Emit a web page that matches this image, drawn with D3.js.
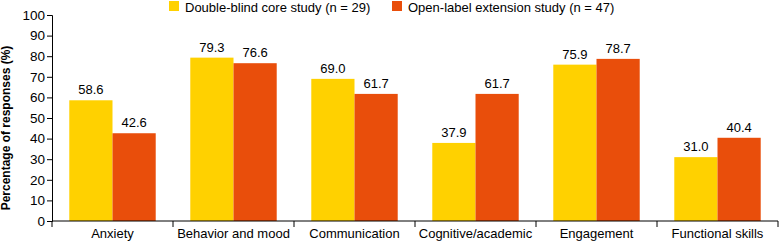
<!DOCTYPE html>
<html>
<head>
<meta charset="utf-8">
<script src="https://cdn.jsdelivr.net/npm/d3@7"></script>
<style>
  body { margin: 0; background: #fff; }
  text { font-family: "Liberation Sans", Arial, sans-serif; fill: #000; }
</style>
</head>
<body>
<div id="canvas"></div>
<script>
// DATA
const categories = ["Anxiety", "Behavior and mood", "Communication", "Cognitive/academic", "Engagement", "Functional skills"];
const seriesNames = ["Double-blind core study (n = 29)", "Open-label extension study (n = 47)"];
const doubleBlind = [58.6, 79.3, 69.0, 37.9, 75.9, 31.0];
const openLabel = [42.6, 76.6, 61.7, 61.7, 78.7, 40.4];
const yTicks = [0, 10, 20, 30, 40, 50, 60, 70, 80, 90, 100];
const colors = ["#FFD100", "#E94E0B"];

// DIMENSIONS
const width = 779;
const height = 242;
const margin = { top: 15, right: 1, bottom: 21, left: 52 };
const plot_width = width - margin.left - margin.right;
const plot_height = height - margin.top - margin.bottom;

// CANVAS AND PLOT
const canvas = d3.select("#canvas")
  .append("svg")
  .attr("width", width)
  .attr("height", height);

const plot = canvas.append("g")
  .attr("transform", `translate(${margin.left},${margin.top})`);

// SCALES
const x = d3.scaleBand().domain(categories).range([0, plot_width]).padding(0);
const xInner = d3.scaleBand().domain([0, 1]).range([0, x.bandwidth()]).paddingInner(0).paddingOuter(0.4);
const y = d3.scaleLinear().domain([0, 100]).range([plot_height, 0]);

// BARS
const rows = categories.map((c, i) => ({ cat: c, values: [doubleBlind[i], openLabel[i]] }));

const groups = plot.selectAll("g.group")
  .data(rows)
  .join("g")
  .attr("class", "group")
  .attr("transform", d => `translate(${x(d.cat)},0)`);

groups.selectAll("rect")
  .data(d => d.values.map((v, k) => ({ v, k })))
  .join("rect")
  .attr("x", d => xInner(d.k))
  .attr("y", d => y(d.v))
  .attr("width", xInner.bandwidth())
  .attr("height", d => y(0) - y(d.v))
  .style("fill", d => colors[d.k]);

groups.selectAll("text.value")
  .data(d => d.values.map((v, k) => ({ v, k })))
  .join("text")
  .attr("class", "value")
  .attr("x", d => xInner(d.k) + xInner.bandwidth() / 2)
  .attr("y", d => y(d.v) - 6)
  .attr("text-anchor", "middle")
  .style("font-size", "13px")
  .text(d => d.v.toFixed(1));

// AXES
const yAxis = plot.append("g")
  .call(d3.axisLeft(y).tickValues(yTicks).tickSize(5).tickPadding(2));
yAxis.selectAll("text").style("font-size", "13.5px");

const xAxis = plot.append("g")
  .attr("transform", `translate(0,${plot_height})`);
xAxis.append("line")
  .attr("x1", 0).attr("x2", plot_width)
  .attr("stroke", "#000");
xAxis.selectAll("line.sep")
  .data(d3.range(categories.length + 1))
  .join("line")
  .attr("class", "sep")
  .attr("x1", i => i * x.step()).attr("x2", i => i * x.step())
  .attr("y1", 0).attr("y2", 6)
  .attr("stroke", "#000");
xAxis.selectAll("text")
  .data(categories)
  .join("text")
  .attr("x", d => x(d) + x.bandwidth() / 2)
  .attr("y", 17)
  .attr("text-anchor", "middle")
  .style("font-size", "13px")
  .text(d => d);

yAxis.selectAll("path, line").attr("stroke", "#000");

// Y LABEL
canvas.append("text")
  .attr("transform", `translate(10,${margin.top + plot_height / 2 + 10}) rotate(-90)`)
  .attr("text-anchor", "middle")
  .style("font-size", "12px")
  .style("font-weight", "bold")
  .text("Percentage of responses (%)");

// LEGEND
const legendX = [169, 392];
const legend = canvas.selectAll("g.legend")
  .data(seriesNames)
  .join("g")
  .attr("class", "legend")
  .attr("transform", (d, i) => `translate(${legendX[i]},0)`);
legend.append("rect")
  .attr("y", 1)
  .attr("width", 10).attr("height", 10)
  .style("fill", (d, i) => colors[i]);
legend.append("text")
  .attr("x", 16).attr("y", 11.5)
  .style("font-size", "13px")
  .text(d => d);
</script>
</body>
</html>
